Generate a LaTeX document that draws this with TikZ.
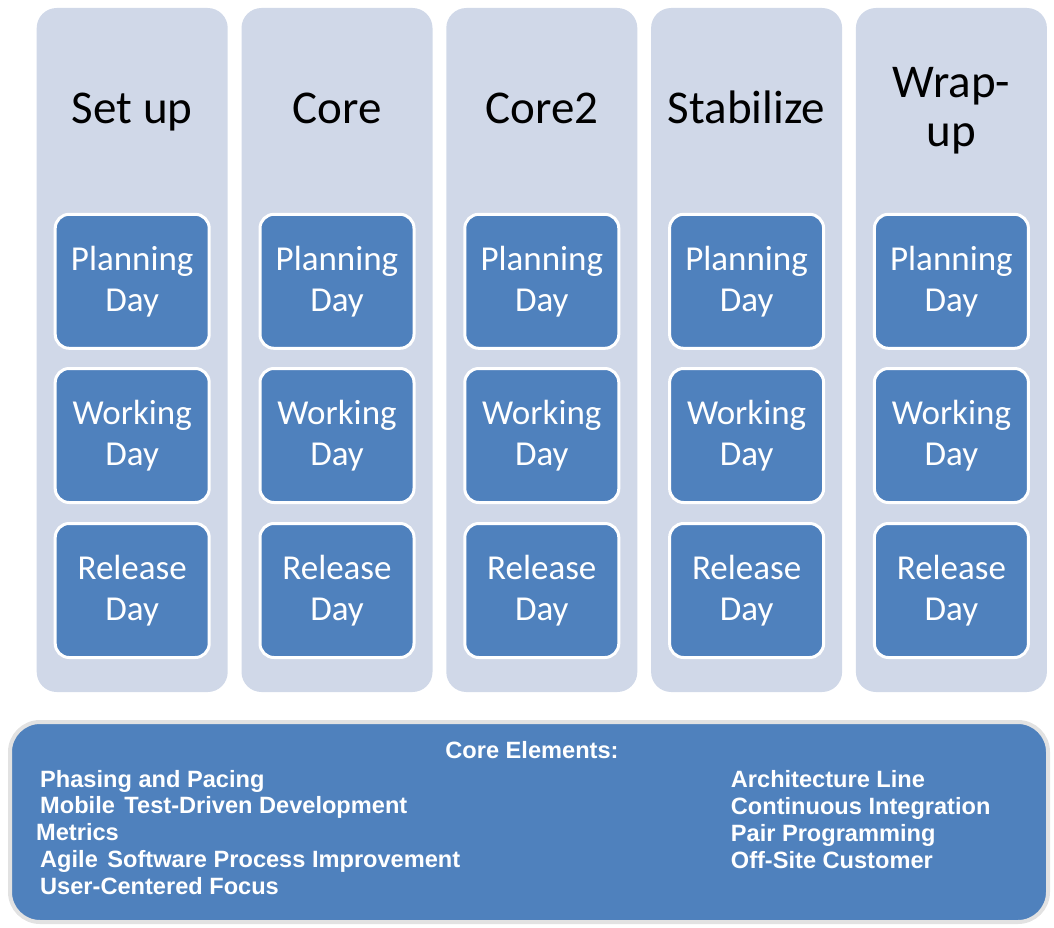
\documentclass[tikz,border=0pt]{standalone}
\usepackage{fontspec}
\setmainfont{Carlito}
\newfontfamily\elemfont{Liberation Sans}
\definecolor{lanefill}{HTML}{D0D8E8}
\definecolor{dayblue}{HTML}{4F81BD}
\definecolor{rimgray}{HTML}{E2E2E2}
\begin{document}
\begin{tikzpicture}[x=1pt,y=-1pt,
  lane/.style={fill=lanefill, draw=none, rounded corners=20pt,
    minimum width=191pt, minimum height=684pt, inner sep=0pt},
  phase/.style={font=\fontsize{47}{49}\selectfont, text=black, inner sep=0pt, align=center},
  daybox/.style={fill=dayblue, draw=white, line width=3pt, rounded corners=14pt,
    minimum width=154pt, minimum height=134pt, inner sep=0pt,
    text=white, align=center, font=\fontsize{35}{41}\selectfont},
  corebox/.style={fill=dayblue, draw=rimgray, line width=4pt, rounded corners=30pt, inner sep=0pt},
  elem/.style={font=\elemfont\bfseries\fontsize{23.6}{26.75}\selectfont, text=white,
    inner sep=0pt, align=left},
]
\useasboundingbox (0,0) rectangle (1054,928);

% phase lanes with their three days
\foreach \i/\name in {0/Set up,1/Core,2/Core2,3/Stabilize} {
  \pgfmathsetmacro{\cx}{132.2+204.8*\i}
  \node[lane] (lane\i) at (\cx,350) {};
  \node[phase, anchor=base] (title\i) at (\cx,124) {\name};
  \node[daybox] (plan\i) at (\cx,281.3) {Planning\\Day};
  \node[daybox] (work\i) at (\cx,435.5) {Working\\Day};
  \node[daybox] (rel\i)  at (\cx,590.5) {Release\\Day};
}
\node[lane] (lane4) at (951.4,350) {};
% multi-line node: base anchor sits on the last line
\node[phase, anchor=base] (title4) at (951.4,147) {Wrap-\\up};
\node[daybox] (plan4) at (951.4,281.3) {Planning\\Day};
\node[daybox] (work4) at (951.4,435.5) {Working\\Day};
\node[daybox] (rel4)  at (951.4,590.5) {Release\\Day};

% core elements panel
\draw[corebox] (10,722) rectangle (1048,922);
\node[elem, anchor=base] (coretitle) at (532,758) {Core Elements:};
\node[elem, anchor=base west] (leftlist) at (40,894)
  {Phasing and Pacing\\Mobile\hspace{3pt} Test-Driven Development\\\hspace*{-4pt}Metrics\\Agile\hspace{3pt} Software Process Improvement\\User-Centered Focus};
\node[elem, anchor=base west] (rightlist) at (730.7,868)
  {Architecture Line\\Continuous Integration\\Pair Programming\\Off-Site Customer};
\end{tikzpicture}
\end{document}
